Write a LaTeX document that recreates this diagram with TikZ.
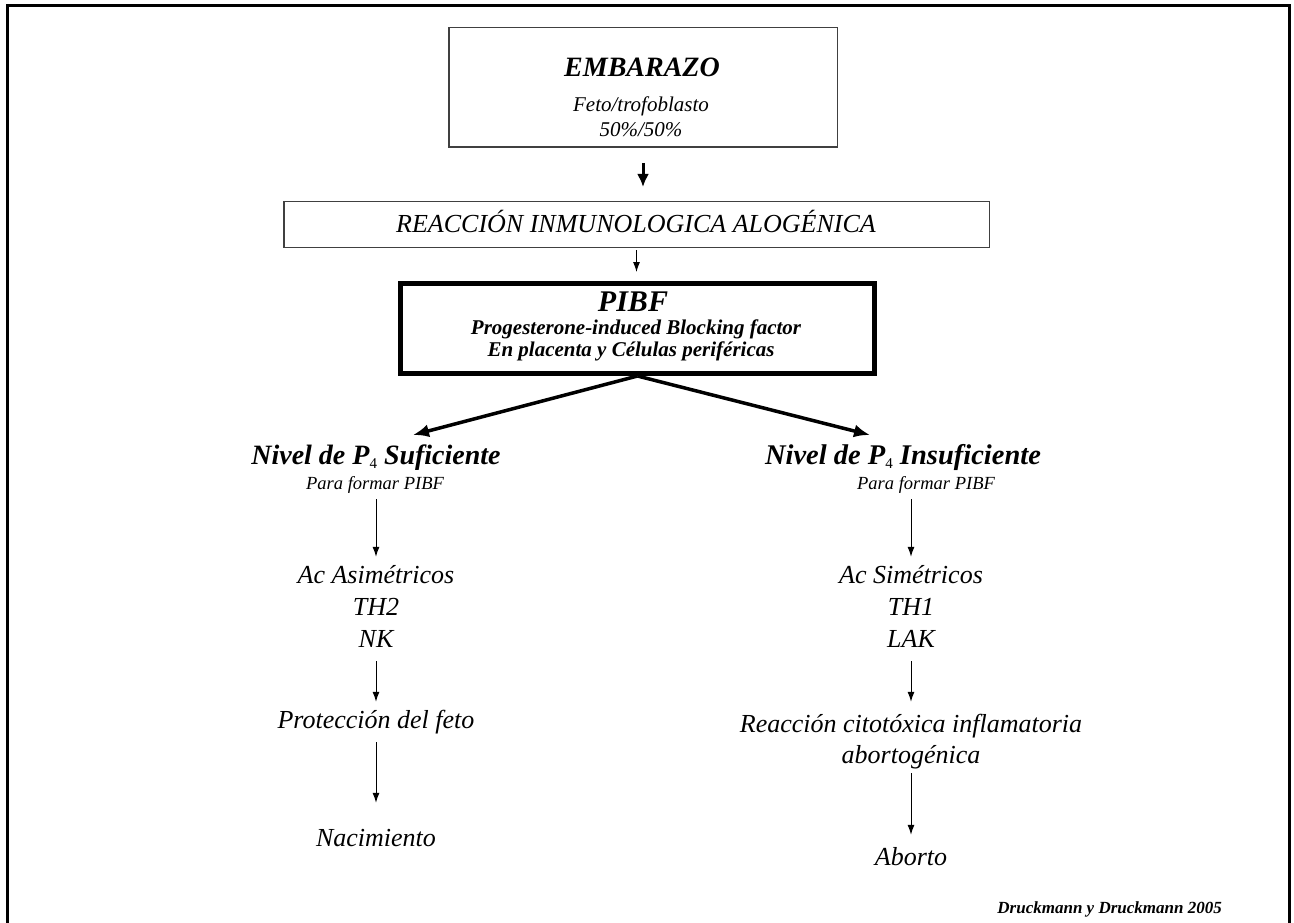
\documentclass[tikz,border=0pt]{standalone}
\usepackage{fontspec}
\setmainfont{Liberation Serif}
\usepackage{tikz}
\usetikzlibrary{arrows.meta, calc}
\newcommand{\fsz}[1]{\fontsize{#1}{#1}\selectfont}
\newcommand{\Pfour}{P\raisebox{-4.5pt}{\normalfont\fsz{15}4}}
\tikzset{
  thinbox/.style={draw=black!75, line width=1.5pt, inner sep=0pt},
  thickbox/.style={draw=black, line width=5pt, inner sep=0pt},
  btxt/.style={anchor=base, inner sep=0pt, font=\bfseries\itshape\fsz{#1}},
  itxt/.style={anchor=base, inner sep=0pt, font=\itshape\fsz{#1}},
  flowtxt/.style={itxt=26, text height=19pt, text depth=6pt},
  note/.style={itxt=18.5, text height=13pt, text depth=4pt},
  arr/.style={-{Latex[length=10pt, width=7pt]}, line width=1pt, shorten <=8pt, shorten >=7pt},
  bigarr/.style={-{Latex[length=13pt, width=12pt]}, line width=3pt},
  branch/.style={-{Latex[length=16pt, width=13pt]}, line width=3.5pt}
}

\begin{document}
\begin{tikzpicture}[x=1pt, y=-1pt]
	\def\colL{376}
	\def\colR{911}

	\useasboundingbox (0,0) rectangle (1294,923);
	\draw[line width=3pt] (7.5,940) -- (7.5,6) -- (1289.5,6) -- (1289.5,940);

	% boxes
	\node[thinbox, minimum width=388.5pt, minimum height=119.5pt] (embarazo) at (643,87.5) {};
	\node[thinbox, minimum width=705.5pt, minimum height=45.5pt] (reaccion) at (636.5,224.5) {};
	\node[thickbox, minimum width=474pt, minimum height=90pt] (pibf) at (637.5,328.5) {};

	\node[btxt=28] (embT) at (642,77) {EMBARAZO};
	\node[btxt=21] (embS1) at (641,112) {\mdseries Feto/trofoblasto};
	\node[btxt=21] (embS2) at (641,137) {\mdseries 50\%/50\%};
	\node[itxt=26] (reacT) at (636,233) {REACCIÓN INMUNOLOGICA ALOGÉNICA};
	\node[btxt=30] (pibfT) at (633,311) {PIBF};
	\node[btxt=21] (pibfS1) at (636,334) {Progesterone-induced Blocking factor};
	\node[btxt=21] (pibfS2) at (631,356) {En placenta y Células periféricas};

	\draw[bigarr, shorten <=15pt, shorten >=14pt] (embarazo.south) -- (embarazo.south |- reaccion.north);
	\draw[arr, shorten <=2pt, shorten >=9pt] (reaccion.south) -- (reaccion.south |- pibf.north);

	% two branches
	\coordinate (tipL) at (413,435);
	\coordinate (tipR) at (870,435);
	\draw[branch] (pibf.south) -- (tipL);
	\draw[branch] (pibf.south) -- (tipR);

	\node[btxt=28] (sufi) at (\colL,464) {Nivel de \Pfour{} Suficiente};
	\node[btxt=28.5] (insufi) at (903,464) {Nivel de \Pfour{} Insuficiente};
	\node[note] (paraL) at (375,489) {Para formar PIBF};
	\node[note] (paraR) at (926,489) {Para formar PIBF};

	% left column
	\node[flowtxt] (asim1) at (\colL,583) {Ac Asimétricos};
	\node[flowtxt] (asim2) at (\colL,615) {TH2};
	\node[flowtxt] (asim3) at (\colL,647) {NK};
	\node[flowtxt] (prot) at (\colL,728) {Protección del feto};
	\node[flowtxt] (nacim) at (\colL,846) {Nacimiento};

	% right column
	\node[flowtxt] (simet1) at (\colR,583) {Ac Simétricos};
	\node[flowtxt] (simet2) at (\colR,615) {TH1};
	\node[flowtxt] (simet3) at (\colR,647) {LAK};
	\node[flowtxt] (reacc1) at (\colR,732) {Reacción citotóxica inflamatoria};
	\node[flowtxt] (reacc2) at (\colR,763) {abortogénica};
	\node[flowtxt] (aborto) at (\colR,865) {Aborto};

	\draw[arr, shorten <=6pt] (paraL.south -| asim1.north) -- (asim1.north);
	\draw[arr] (asim3) -- (prot);
	\draw[arr, shorten >=24pt] (prot) -- (nacim);

	\draw[arr, shorten <=6pt] (paraR.south -| simet1.north) -- (simet1.north);
	\draw[arr, shorten >=11pt] (simet3) -- (reacc1);
	\draw[arr, shorten <=4pt, shorten >=11pt] (reacc2) -- (aborto);

	\node[btxt=17, anchor=base east] (fuente) at (1222,913) {Druckmann y Druckmann 2005};
\end{tikzpicture}
\end{document}
